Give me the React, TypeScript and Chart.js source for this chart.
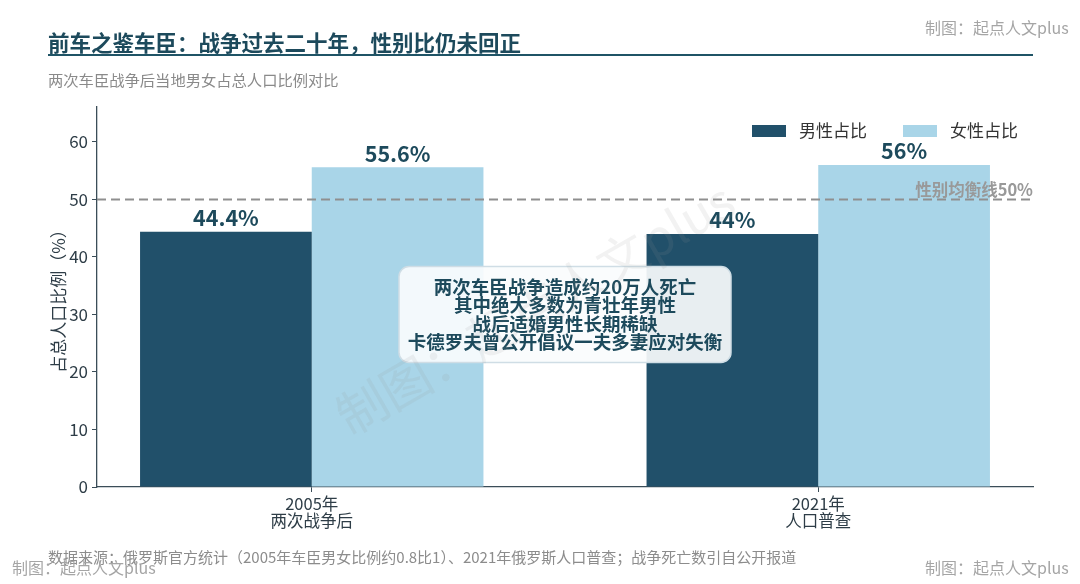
import React, { useEffect, useRef } from "react";
import { Chart, registerables } from "chart.js";

Chart.register(...registerables);

const categories = [
  ["2005年", "两次战争后"],
  ["2021年", "人口普查"],
];
const seriesNames = ["男性占比", "女性占比"];
const maleShare = [44.4, 44];
const femaleShare = [55.6, 56];
const yTicks = [0, 10, 20, 30, 40, 50, 60];
const balanceLine = 50;
const noteLines = [
  "两次车臣战争造成约20万人死亡",
  "其中绝大多数为青壮年男性",
  "战后适婚男性长期稀缺",
  "卡德罗夫曾公开倡议一夫多妻应对失衡",
];

const FONT = '"Noto Sans CJK SC", "Noto Sans", sans-serif';
const DARK = "#1d4a5c";
const MALE = "#21506a";
const FEMALE = "#a9d5e8";
const GRAY = "#999999";

const overlay = {
  id: "overlay",
  afterDatasetsDraw(chart: any) {
    const { ctx, chartArea } = chart;
    const y = chart.scales.y;
    ctx.save();

    // balance line
    const yb = y.getPixelForValue(balanceLine);
    ctx.strokeStyle = "#8f8f8f";
    ctx.lineWidth = 2;
    ctx.setLineDash([9, 5]);
    ctx.beginPath();
    ctx.moveTo(chartArea.left, yb);
    ctx.lineTo(chartArea.right, yb);
    ctx.stroke();
    ctx.setLineDash([]);
    ctx.font = `bold 16.5px ${FONT}`;
    ctx.fillStyle = GRAY;
    ctx.textAlign = "right";
    ctx.textBaseline = "bottom";
    ctx.fillText(`性别均衡线${balanceLine}%`, chartArea.right, yb - 1);

    // value labels
    ctx.font = `bold 21.5px ${FONT}`;
    ctx.fillStyle = DARK;
    ctx.textAlign = "center";
    ctx.textBaseline = "bottom";
    chart.data.datasets.forEach((ds: any, i: number) => {
      chart.getDatasetMeta(i).data.forEach((bar: any, j: number) => {
        ctx.fillText(`${ds.data[j].y}%`, bar.x, bar.y - 3);
      });
    });

    // legend
    ctx.font = `17px ${FONT}`;
    ctx.textAlign = "left";
    ctx.textBaseline = "middle";
    const legX = [752, 903];
    chart.data.datasets.forEach((ds: any, i: number) => {
      ctx.fillStyle = ds.backgroundColor;
      ctx.fillRect(legX[i], 125, 34, 12);
      ctx.fillStyle = "#333333";
      ctx.fillText(ds.label, legX[i] + 47, 131);
    });

    // note box
    const cx = (chartArea.left + chartArea.right) / 2;
    const cy = y.getPixelForValue(30);
    const bw = 332;
    const bh = 96;
    ctx.fillStyle = "rgba(250,252,253,0.92)";
    ctx.strokeStyle = "#cfdde5";
    ctx.lineWidth = 1.5;
    ctx.beginPath();
    ctx.roundRect(cx - bw / 2, cy - bh / 2, bw, bh, 10);
    ctx.fill();
    ctx.stroke();
    ctx.font = `bold 18.5px ${FONT}`;
    ctx.fillStyle = DARK;
    ctx.textAlign = "center";
    ctx.textBaseline = "middle";
    const lh = 18.5;
    noteLines.forEach((t, k) => {
      ctx.fillText(t, cx, cy + (k - (noteLines.length - 1) / 2) * lh);
    });
    ctx.restore();
  },
  afterDraw(chart: any) {
    const { ctx, chartArea } = chart;
    ctx.save();
    // title
    ctx.font = `bold 21.5px ${FONT}`;
    ctx.fillStyle = DARK;
    ctx.textAlign = "left";
    ctx.textBaseline = "middle";
    ctx.fillText("前车之鉴车臣：战争过去二十年，性别比仍未回正", 48, 43);
    ctx.strokeStyle = "#1f5466";
    ctx.lineWidth = 2;
    ctx.beginPath();
    ctx.moveTo(48, 55);
    ctx.lineTo(chartArea.right, 55);
    ctx.stroke();
    ctx.font = `15.3px ${FONT}`;
    ctx.fillStyle = "#8a8a8a";
    ctx.fillText("两次车臣战争后当地男女占总人口比例对比", 48, 80);

    // source
    ctx.font = `15px ${FONT}`;
    ctx.fillStyle = "#8c8c8c";
    ctx.fillText(
      "数据来源：俄罗斯官方统计（2005年车臣男女比例约0.8比1）、2021年俄罗斯人口普查；战争死亡数引自公开报道",
      48,
      557
    );

    // watermarks
    ctx.font = `16px ${FONT}`;
    ctx.fillStyle = "#a5a5a5";
    ctx.fillText("制图：起点人文plus", 925, 28);
    ctx.fillText("制图：起点人文plus", 925, 568);
    ctx.fillText("制图：起点人文plus", 12, 568);

    ctx.translate(535, 308);
    ctx.rotate(-Math.PI / 6);
    ctx.font = `50px ${FONT}`;
    ctx.fillStyle = "rgba(150,150,150,0.12)";
    ctx.textAlign = "center";
    ctx.fillText("制图：起点人文plus", 0, 0);
    ctx.restore();
  },
};

const App: React.FC = () => {
  const canvasRef = useRef<HTMLCanvasElement | null>(null);

  useEffect(() => {
    const ctx = canvasRef.current?.getContext("2d");
    if (!ctx) return;
    const chart = new Chart(ctx, {
      type: "bar",
      data: {
        datasets: [
          {
            label: seriesNames[0],
            data: maleShare.map((v, i) => ({ x: i, y: v })),
            backgroundColor: MALE,
          },
          {
            label: seriesNames[1],
            data: femaleShare.map((v, i) => ({ x: i, y: v })),
            backgroundColor: FEMALE,
          },
        ],
      },
      options: {
        animation: false,
        responsive: false,
        categoryPercentage: 0.678,
        barPercentage: 1,
        layout: { padding: { top: 107, right: 47, left: 0, bottom: 0 } },
        plugins: {
          legend: { display: false },
          tooltip: { enabled: false },
        },
        scales: {
          x: {
            type: "linear",
            offset: false,
            min: -0.424,
            max: 1.424,
            afterBuildTicks: (scale: any) => {
              scale.ticks = categories.map((_, i) => ({ value: i }));
            },
            afterFit: (scale: any) => {
              scale.height = 97;
            },
            ticks: {
              callback: (value: any) => categories[value] ?? "",
              color: "#2e3d47",
              font: { family: FONT, size: 16.5, lineHeight: 1.05 },
              padding: 3,
              maxRotation: 0,
            },
            grid: {
              offset: false,
              drawOnChartArea: false,
              drawTicks: true,
              tickLength: 5,
              color: "#3b4d58",
            },
            border: { color: "#3b4d58", width: 1.3 },
          },
          y: {
            min: 0,
            max: 66.08,
            afterBuildTicks: (scale: any) => {
              scale.ticks = yTicks.map((v) => ({ value: v }));
            },
            afterFit: (scale: any) => {
              scale.width = 97;
            },
            ticks: {
              color: "#2e3d47",
              font: { family: FONT, size: 17 },
              padding: 4,
            },
            grid: {
              drawOnChartArea: false,
              drawTicks: true,
              tickLength: 5,
              color: "#3b4d58",
            },
            border: { color: "#3b4d58", width: 1.3 },
            title: {
              display: true,
              text: "占总人口比例（%）",
              color: "#2e3d47",
              font: { family: FONT, size: 17, lineHeight: 1.2 },
              padding: { top: 48, bottom: 0 },
            },
          },
        },
      } as any,
      plugins: [overlay],
    });
    return () => chart.destroy();
  }, []);

  return (
    <div
      style={{
        position: "absolute",
        left: 0,
        top: 0,
        width: 1080,
        height: 584,
        background: "#ffffff",
      }}
    >
      <canvas ref={canvasRef} width={1080} height={584} />
    </div>
  );
};

export default App;
